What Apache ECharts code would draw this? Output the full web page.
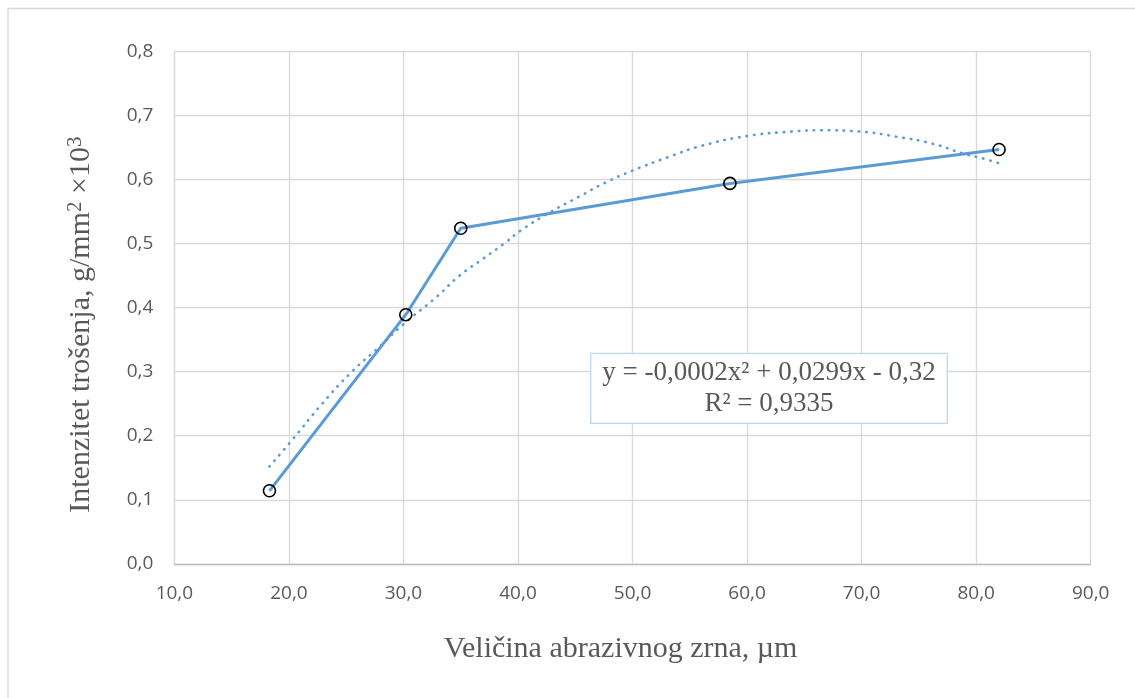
<!DOCTYPE html>
<html>
<head>
<meta charset="utf-8">
<script src="https://cdn.jsdelivr.net/npm/echarts@6/dist/echarts.min.js"></script>
<style>
html,body{margin:0;padding:0;background:#fff;}
#chart{width:1135px;height:698px;}
</style>
</head>
<body>
<div id="chart"></div>
<script>
// Measured data points (grain size µm, wear intensity)
const grainSize = [18.3, 30.2, 35.0, 58.5, 82.0];
const wearIntensity = [0.114, 0.389, 0.524, 0.594, 0.647];

// Polynomial trendline
const trendX = [18.3, 20.4, 22.9, 25.5, 27.9, 30.0, 32.9, 34.9, 37.0, 39.0, 40.2, 42.9, 45.3, 47.6, 50.0, 53.1, 56.1, 60.0, 63.9, 66.5, 69.8, 73.0, 76.2, 78.8, 80.6, 81.9];
const trendY = [0.152, 0.196, 0.250, 0.300, 0.339, 0.374, 0.417, 0.450, 0.477, 0.503, 0.520, 0.550, 0.573, 0.595, 0.614, 0.635, 0.653, 0.668, 0.675, 0.677, 0.675, 0.667, 0.656, 0.641, 0.633, 0.626];

const xTicks = {min: 10, max: 90, step: 10};
const yTicks = {min: 0, max: 0.8, step: 0.1};

const xTitle = 'Veličina abrazivnog zrna, µm';
const yTitle = 'Intenzitet trošenja, g/mm{sup|2} ×10{sup|3}';
const eqLine1 = 'y = -0,0002x² + 0,0299x - 0,32';
const eqLine2 = 'R² = 0,9335';

const comma = v => v.toFixed(1).replace('.', ',');

const chart = echarts.init(document.getElementById('chart'), null, {renderer: 'canvas'});
chart.setOption({
  backgroundColor: '#fff',
  animation: false,
  grid: {left: 174.4, right: 44.3, top: 51.5, bottom: 134.2, containLabel: false},
  xAxis: {
    type: 'value', min: xTicks.min, max: xTicks.max, interval: xTicks.step,
    name: xTitle, nameLocation: 'middle', nameGap: 70,
    nameTextStyle: {fontFamily: 'Liberation Serif', fontSize: 30, color: '#595959', padding: [0, 24, 0, 0]},
    axisLine: {show: true, lineStyle: {color: '#bfbfbf', width: 1.3}},
    axisTick: {show: false},
    axisLabel: {formatter: comma, fontFamily: 'Open Sans', fontSize: 19, color: '#595959', margin: 20},
    splitLine: {show: true, lineStyle: {color: '#d9d9d9', width: 1.3}}
  },
  yAxis: {
    type: 'value', min: yTicks.min, max: yTicks.max, interval: yTicks.step,
    name: yTitle, nameLocation: 'middle', nameGap: 78, nameRotate: 90,
    nameTextStyle: {
      fontFamily: 'Liberation Serif', fontSize: 30, color: '#595959', padding: [0, 34, 0, 0],
      rich: {sup: {fontFamily: 'Liberation Serif', fontSize: 21, color: '#595959', verticalAlign: 'top', padding: [0, 0, 10, 0]}}
    },
    axisLine: {show: true, lineStyle: {color: '#d9d9d9', width: 1.3}},
    axisTick: {show: false},
    axisLabel: {formatter: comma, fontFamily: 'Open Sans', fontSize: 19, color: '#595959', margin: 21},
    splitLine: {show: true, lineStyle: {color: '#d9d9d9', width: 1.3}}
  },
  series: [
    {
      type: 'line', name: 'trend',
      data: trendX.map((x, i) => [x, trendY[i]]),
      smooth: true, showSymbol: false, symbol: 'none', z: 2,
      lineStyle: {color: '#5B9BD5', width: 2.6, type: [0.5, 7], cap: 'round'}
    },
    {
      type: 'line', name: 'data',
      data: grainSize.map((x, i) => [x, wearIntensity[i]]),
      symbol: 'circle', symbolSize: 12, z: 3,
      lineStyle: {color: '#5B9BD5', width: 3},
      itemStyle: {color: 'rgba(0,0,0,0)', borderColor: '#000', borderWidth: 1.6}
    }
  ],
  graphic: [
    {type: 'rect', shape: {x: 8, y: 8.5, width: 1200, height: 800}, style: {fill: 'none', stroke: '#d9d9d9', lineWidth: 1.3}, silent: true, z: 0},
    {type: 'rect', shape: {x: 590.7, y: 353.3, width: 356.6, height: 70}, style: {fill: '#fff', stroke: '#bdd7ee', lineWidth: 1.3}, z: 10},
    {type: 'text', x: 769, y: 373, style: {text: eqLine1, font: '27px "Liberation Serif"', fill: '#595959', align: 'center', verticalAlign: 'middle'}, z: 11},
    {type: 'text', x: 769, y: 404, style: {text: eqLine2, font: '27px "Liberation Serif"', fill: '#595959', align: 'center', verticalAlign: 'middle'}, z: 11}
  ]
});
</script>
</body>
</html>
